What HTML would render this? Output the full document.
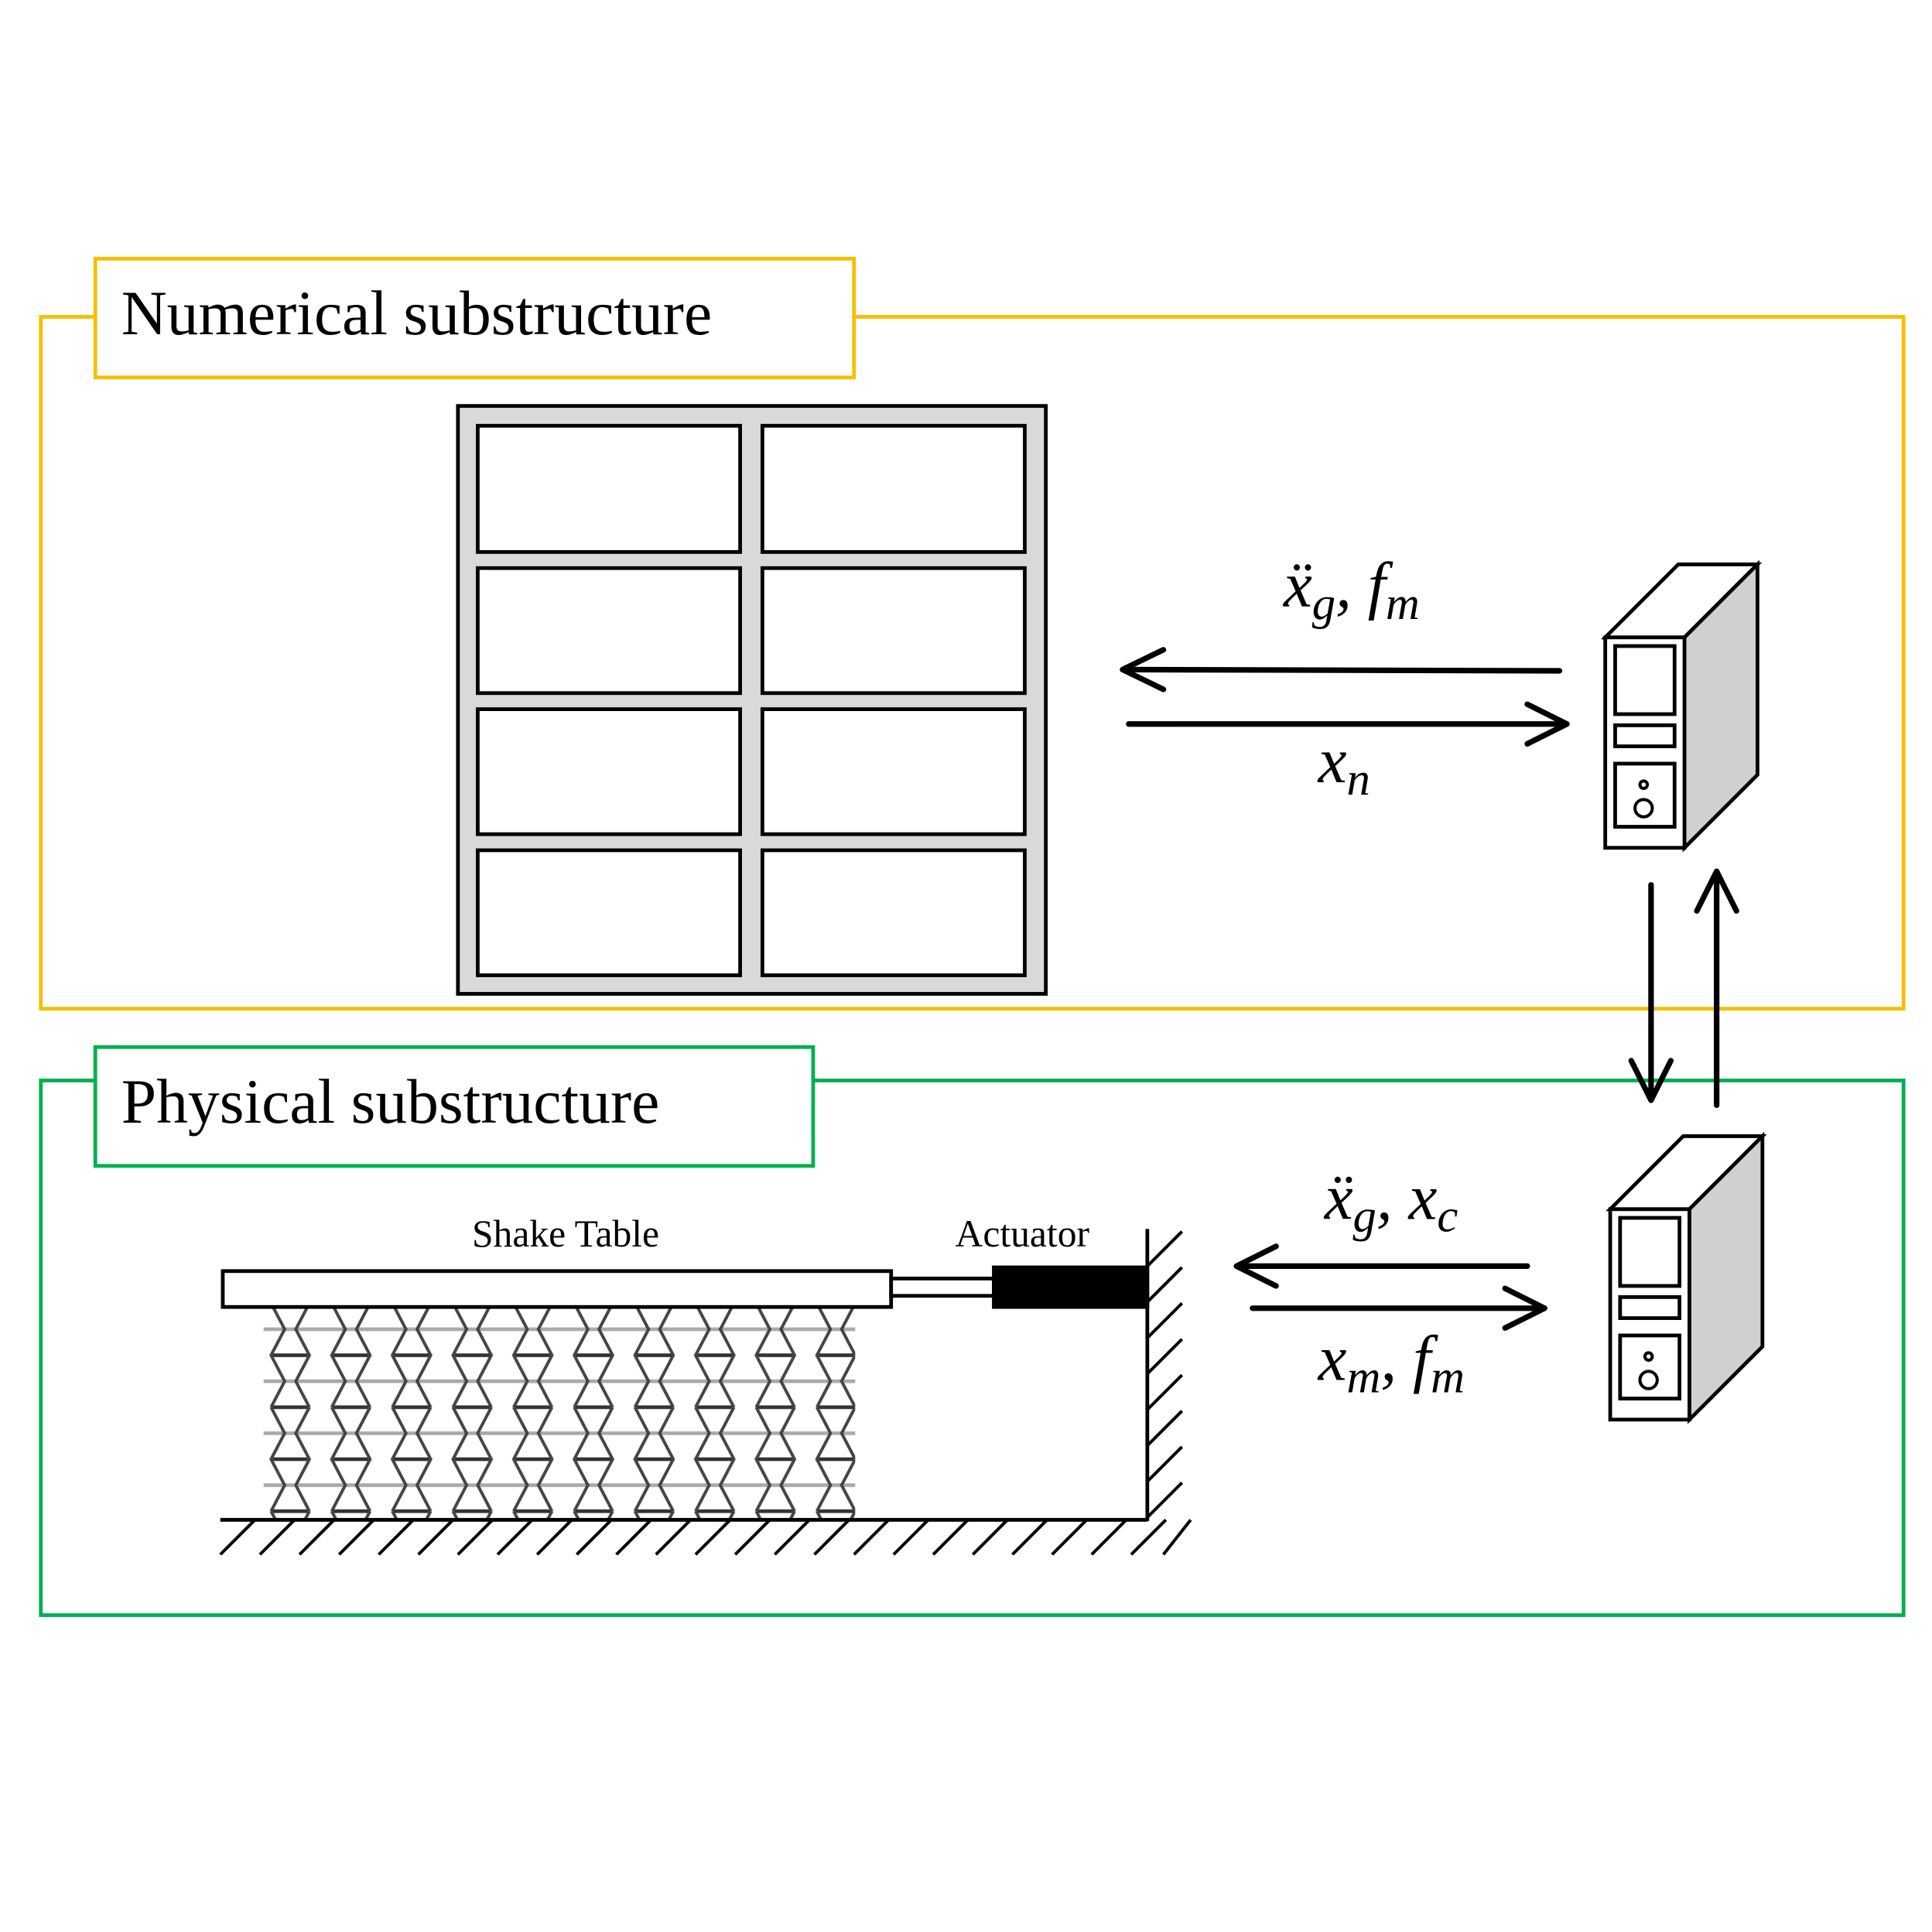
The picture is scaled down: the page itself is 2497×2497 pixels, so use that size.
<!DOCTYPE html>
<html><head><meta charset="utf-8"><style>html,body{margin:0;padding:0;background:#fff}svg{display:block}</style></head>
<body>
<svg width="2497" height="2497" viewBox="0 0 1561 1561" xmlns="http://www.w3.org/2000/svg">
<defs>
<pattern id="spr" x="213" y="1053" width="49" height="84" patternUnits="userSpaceOnUse">
  <line x1="0" y1="21" x2="49" y2="21" stroke="#aaa" stroke-width="3"/>
  <line x1="0" y1="63" x2="49" y2="63" stroke="#aaa" stroke-width="3"/>
  <line x1="6" y1="42" x2="37" y2="42" stroke="#333" stroke-width="3"/>
  <line x1="6" y1="84" x2="37" y2="84" stroke="#333" stroke-width="3"/>
  <line x1="6" y1="0" x2="37" y2="0" stroke="#333" stroke-width="3"/>
  <polyline points="6,0 17,21 6,42 17,63 6,84" fill="none" stroke="#444" stroke-width="2.5"/>
  <polyline points="37,0 26,21 37,42 26,63 37,84" fill="none" stroke="#444" stroke-width="2.5"/>
</pattern>
</defs>
<g fill="none" stroke-width="3">
<rect x="33" y="256" width="1505" height="559" stroke="#f5c000"/>
<rect x="33" y="873" width="1505" height="432" stroke="#00b050"/>
</g>
<rect x="77" y="209" width="613" height="96" fill="#fff" stroke="#f5c000" stroke-width="3"/>
<rect x="77" y="846" width="580" height="96" fill="#fff" stroke="#00b050" stroke-width="3"/>
<g font-family="Liberation Serif, serif" fill="#000">
<text x="98" y="270" font-size="51">Numerical substructure</text>
<text x="98" y="907" font-size="51">Physical substructure</text>
<text x="457" y="1007" font-size="31" text-anchor="middle">Shake Table</text>
<text x="826" y="1007" font-size="31" text-anchor="middle">Actuator</text>
<g font-style="italic" font-size="52">
<text x="1037" y="490">x&#776;<tspan font-size="38" dy="10">g</tspan><tspan dy="-10">, f</tspan><tspan font-size="38" dy="10">m</tspan></text>
<text x="1065" y="632">x<tspan font-size="38" dy="10">n</tspan></text>
<text x="1070" y="985">x&#776;<tspan font-size="38" dy="10">g</tspan><tspan dy="-10">, x</tspan><tspan font-size="38" dy="10">c</tspan></text>
<text x="1065" y="1115">x<tspan font-size="38" dy="10">m</tspan><tspan dy="-10">, f</tspan><tspan font-size="38" dy="10">m</tspan></text>
</g>
</g>
<rect x="370" y="328" width="475" height="475" fill="#d9d9d9" stroke="#000" stroke-width="3"/>
<g fill="#fff" stroke="#000" stroke-width="3">
<rect x="386" y="344" width="212" height="102"/><rect x="616" y="344" width="212" height="102"/>
<rect x="386" y="459" width="212" height="101"/><rect x="616" y="459" width="212" height="101"/>
<rect x="386" y="573" width="212" height="101"/><rect x="616" y="573" width="212" height="101"/>
<rect x="386" y="687" width="212" height="101"/><rect x="616" y="687" width="212" height="101"/>
</g>
<g fill="none" stroke="#000" stroke-width="4.5" stroke-linecap="round" stroke-linejoin="round">
<line x1="1260" y1="542" x2="908" y2="541"/><polyline points="940,525 907,541 940,557"/>
<line x1="912" y1="585" x2="1265" y2="585"/><polyline points="1234,569 1266,585 1234,601"/>
<line x1="1334" y1="715" x2="1334" y2="888"/><polyline points="1318,857 1334,889 1350,857"/>
<line x1="1387" y1="893" x2="1387" y2="705"/><polyline points="1371,736 1387,704 1403,736"/>
<line x1="1234" y1="1023" x2="1000" y2="1023"/><polyline points="1031,1007 999,1023 1031,1039"/>
<line x1="1012" y1="1057" x2="1247" y2="1057"/><polyline points="1216,1041 1248,1057 1216,1073"/>
</g>
<g id="pc" stroke="#000" stroke-width="3">
<polygon points="1297,515 1356,456 1420,456 1361,515" fill="#fff"/>
<polygon points="1361,515 1420,456 1420,626 1361,685" fill="#d0d0d0"/>
<rect x="1297" y="515" width="64" height="170" fill="#fff"/>
<rect x="1305" y="522" width="48" height="55" fill="#fff"/>
<rect x="1305" y="586" width="48" height="17" fill="#fff"/>
<rect x="1305" y="617" width="48" height="51" fill="#fff"/>
<circle cx="1328" cy="634" r="3" fill="#fff" stroke-width="2.5"/>
<circle cx="1328" cy="653" r="7" fill="#fff" stroke-width="2.5"/>
</g>
<use href="#pc" transform="translate(4,462)"/>
<rect x="213" y="1057" width="478" height="171" fill="url(#spr)"/>
<g stroke="#000" stroke-width="3">
<rect x="180" y="1027" width="540" height="29" fill="#fff"/>
<rect x="720" y="1033" width="83" height="14" fill="#fff"/>
<rect x="803" y="1024" width="124" height="32" fill="#000"/>
<line x1="927" y1="993" x2="927" y2="1229"/>
<line x1="178" y1="1228" x2="927" y2="1228"/>
</g>
<g stroke="#000" stroke-width="2.5">
<line x1="927" y1="1023" x2="955" y2="995"/><line x1="927" y1="1052" x2="955" y2="1024"/>
<line x1="927" y1="1081" x2="955" y2="1053"/><line x1="927" y1="1110" x2="955" y2="1082"/>
<line x1="927" y1="1139" x2="955" y2="1111"/><line x1="927" y1="1168" x2="955" y2="1140"/>
<line x1="927" y1="1197" x2="955" y2="1169"/><line x1="927" y1="1226" x2="955" y2="1198"/>
<line x1="206" y1="1228" x2="178" y2="1256"/><line x1="238" y1="1228" x2="210" y2="1256"/>
<line x1="270" y1="1228" x2="242" y2="1256"/><line x1="302" y1="1228" x2="274" y2="1256"/>
<line x1="334" y1="1228" x2="306" y2="1256"/><line x1="366" y1="1228" x2="338" y2="1256"/>
<line x1="398" y1="1228" x2="370" y2="1256"/><line x1="430" y1="1228" x2="402" y2="1256"/>
<line x1="462" y1="1228" x2="434" y2="1256"/><line x1="494" y1="1228" x2="466" y2="1256"/>
<line x1="526" y1="1228" x2="498" y2="1256"/><line x1="558" y1="1228" x2="530" y2="1256"/>
<line x1="590" y1="1228" x2="562" y2="1256"/><line x1="622" y1="1228" x2="594" y2="1256"/>
<line x1="654" y1="1228" x2="626" y2="1256"/><line x1="686" y1="1228" x2="658" y2="1256"/>
<line x1="718" y1="1228" x2="690" y2="1256"/><line x1="750" y1="1228" x2="722" y2="1256"/>
<line x1="782" y1="1228" x2="754" y2="1256"/><line x1="814" y1="1228" x2="786" y2="1256"/>
<line x1="846" y1="1228" x2="818" y2="1256"/><line x1="878" y1="1228" x2="850" y2="1256"/>
<line x1="910" y1="1228" x2="882" y2="1256"/><line x1="942" y1="1228" x2="914" y2="1256"/>
<line x1="962" y1="1228" x2="940" y2="1256"/></g>
</svg>
</body></html>
